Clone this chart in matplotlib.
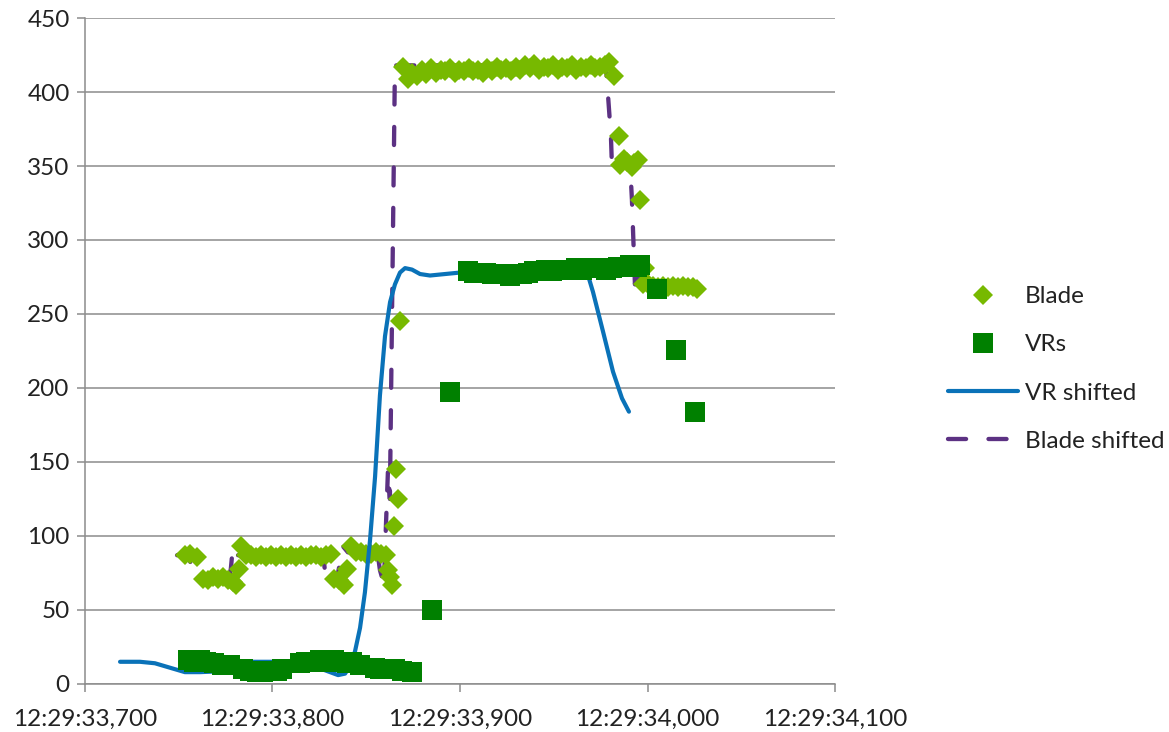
import matplotlib
matplotlib.use("Agg")
import matplotlib.pyplot as plt
from matplotlib.ticker import FuncFormatter, MultipleLocator

# times are milliseconds after 12:29:33
blade_t = [753.3, 756.0, 759.7, 762.9, 765.6, 768.3, 770.9, 773.6, 776.3, 778.9,
           780.5, 782.1, 783.2, 785.9, 788.5, 791.2, 793.9, 796.5, 799.2, 801.9,
           804.5, 807.2, 809.9, 812.5, 815.2, 817.9, 820.5, 823.2, 825.9, 828.5,
           831.2, 832.8, 835.5, 838.1, 839.7, 841.9, 844.5, 847.2, 849.9, 852.5,
           855.2, 857.9, 860.5, 861.6, 862.7, 863.7, 864.8, 865.9, 866.9, 868.0,
           869.6, 872.1, 874.6, 877.1, 879.6, 882.1, 884.6, 887.1, 889.6, 892.1,
           894.6, 897.1, 899.6, 902.1, 904.6, 907.1, 909.6, 912.1, 914.6, 917.1,
           919.6, 922.1, 924.6, 927.1, 929.6, 932.1, 934.6, 937.1, 939.6, 942.1,
           944.6, 947.1, 949.6, 952.1, 954.6, 957.1, 959.6, 962.1, 964.6, 967.1,
           969.6, 972.1, 974.6, 977.1, 979.6, 982.1, 984.8, 985.3, 987.5, 989.1,
           991.7, 992.8, 994.9, 996.0, 997.6, 998.7, 1000.3, 1002.9, 1005.6, 1008.3,
           1010.9, 1013.6, 1016.3, 1018.9, 1021.6, 1024.3, 1026.4]
blade_v = [87, 88, 86, 71, 70, 72, 71, 72, 70, 69,
           67, 78, 93, 87, 87, 86, 87, 86, 87, 86,
           87, 86, 87, 86, 87, 86, 87, 87, 86, 87,
           88, 71, 70, 67, 78, 93, 89, 89, 88, 88,
           89, 88, 87, 77, 72, 67, 107, 145, 125, 245,
           417, 409, 413, 411, 415, 412, 416, 413, 415, 414,
           416, 413, 415, 414, 416, 414, 415, 413, 416, 414,
           417, 415, 416, 414, 417, 415, 418, 416, 419, 415,
           417, 416, 418, 415, 417, 416, 418, 415, 417, 416,
           418, 416, 417, 418, 420, 411, 370, 351, 355, 353,
           349, 352, 354, 327, 270, 281, 270, 269, 268, 269,
           268, 269, 268, 269, 268, 268, 267]

vrs_t = [754.9, 758.1, 761.3, 764.5, 768.8, 773.1, 777.3, 784.3, 788.0, 791.7,
         794.9, 798.7, 802.4, 805.1, 814.7, 817.9, 821.6, 825.3, 829.1, 832.8,
         836.0, 839.7, 842.4, 846.7, 854.7, 857.3, 861.6, 865.3, 869.0, 874.4,
         885.1, 894.7,
         904.3, 907.5, 910.7, 913.9, 917.1, 920.3, 923.5, 926.7, 929.9, 933.1,
         936.3, 939.5, 942.7, 945.9, 949.1, 952.3, 955.5, 958.7, 961.9, 965.1,
         968.3, 971.5, 974.7, 977.9, 981.1, 984.3, 987.5, 990.7, 994.4, 996.0,
         1005.1, 1015.2, 1025.3]
vrs_v = [16, 15, 16, 15, 14, 13, 13, 10, 9, 8,
         8, 9, 9, 10, 14, 15, 15, 16, 15, 16,
         15, 14, 15, 13, 11, 10, 10, 10, 9, 8,
         50, 197,
         279, 278, 278, 278, 277, 277, 277, 276, 277, 277,
         278, 279, 279, 280, 279, 280, 280, 280, 281, 280,
         281, 281, 281, 280, 281, 282, 282, 283, 282, 283,
         267, 226, 184]

vr_shift_t = [718.7, 729.3, 737.3, 745.3, 753.3, 761.3, 770.9, 780.0, 789.1, 798.7,
              806.7, 814.7, 824.3, 830.7, 835.0, 838.7, 841.3, 844.0, 846.7, 849.3,
              852.0, 854.7, 857.3, 860.0, 862.7, 865.3, 868.0, 870.7, 874.4, 878.7,
              884.0, 892.0, 900.0, 910.7, 921.3, 932.0, 942.7, 953.3, 961.3, 965.6,
              968.3, 970.9, 976.3, 981.6, 986.4, 990.1]
vr_shift_v = [15, 15, 14, 11, 8, 8, 8.5, 12, 15, 15,
              15, 14, 11, 8, 6, 7, 12, 22, 38, 62,
              97, 140, 195, 235, 258, 270, 278, 281, 280, 277,
              276, 277, 278, 279, 279, 280, 280, 281, 281, 280,
              276, 265, 238, 211, 193, 184]

blade_shift_t = [749.1, 751.7, 755.4, 758.6, 761.3, 764.0, 766.6, 769.3, 772.0, 774.6,
                 776.2, 777.8, 778.9, 781.6, 826.9, 828.5, 831.2, 833.8, 835.4, 837.6,
                 840.2, 856.2, 857.3, 858.4, 859.4, 860.5, 861.6, 862.6, 863.7, 865.3,
                 977.8, 980.5, 981.0, 983.2, 987.4, 990.6, 991.7, 993.3, 994.4, 996.0,
                 1022.1]
blade_shift_v = [87, 88, 86, 71, 70, 72, 71, 72, 70, 69,
                 67, 78, 93, 87, 88, 71, 70, 67, 78, 93,
                 89, 87, 77, 72, 67, 107, 145, 125, 245, 418,
                 418, 370, 351, 355, 349, 354, 327, 270, 281, 270,
                 267]

plt.rcParams['font.family'] = ['Lato', 'DejaVu Sans']
fig = plt.figure(figsize=(11.69, 7.32), dpi=100)
ax = fig.add_axes([0.0727, 0.0656, 0.6416, 0.9098])

ax.plot(blade_shift_t, blade_shift_v, color='#5c3183', lw=3.1,
        linestyle=(0, (4.2, 5.2)), dash_capstyle='round', zorder=2,
        label='Blade shifted')
ax.plot(blade_t, blade_v, 'D', color='#77b900', ms=10.5, mew=0, zorder=3,
        label='Blade')
ax.plot(vr_shift_t, vr_shift_v, color='#0a72b8', lw=3.0, solid_capstyle='round',
        zorder=4, label='VR shifted')
ax.plot(vrs_t, vrs_v, 's', color='#008000', ms=14, mew=0, zorder=5,
        label='VRs')

ax.set_xlim(700, 1100)
ax.set_ylim(0, 450)
ax.xaxis.set_major_locator(MultipleLocator(100))
ax.yaxis.set_major_locator(MultipleLocator(50))


def fmt_time(v, pos):
    total = 33000 + int(round(v))
    return f"12:29:{total // 1000:02d},{total % 1000:03d}"


ax.xaxis.set_major_formatter(FuncFormatter(fmt_time))

ax.grid(axis='y', color='#8c8c8c', lw=1.1)
ax.set_axisbelow(True)
for side in ('top', 'right'):
    ax.spines[side].set_visible(False)
for side in ('left', 'bottom'):
    ax.spines[side].set_color('#8c8c8c')
    ax.spines[side].set_linewidth(1.1)
ax.tick_params(axis='both', colors='#8c8c8c', labelcolor='#222222',
               labelsize=17.5, length=6, width=1.1)
ax.tick_params(axis='x', pad=12)
ax.tick_params(axis='y', pad=5)

handles, labels = ax.get_legend_handles_labels()
order = ['Blade', 'VRs', 'VR shifted', 'Blade shifted']
hl = dict(zip(labels, handles))
fig.legend([hl[k] for k in order], order, loc='center left',
           bbox_to_anchor=(948 / 1169, 1 - 369 / 732), frameon=False,
           fontsize=17.5, handlelength=2.9, handletextpad=0.25,
           labelspacing=1.12, borderpad=0, borderaxespad=0,
           labelcolor='#222222')

fig.savefig('out.png', dpi=100)
